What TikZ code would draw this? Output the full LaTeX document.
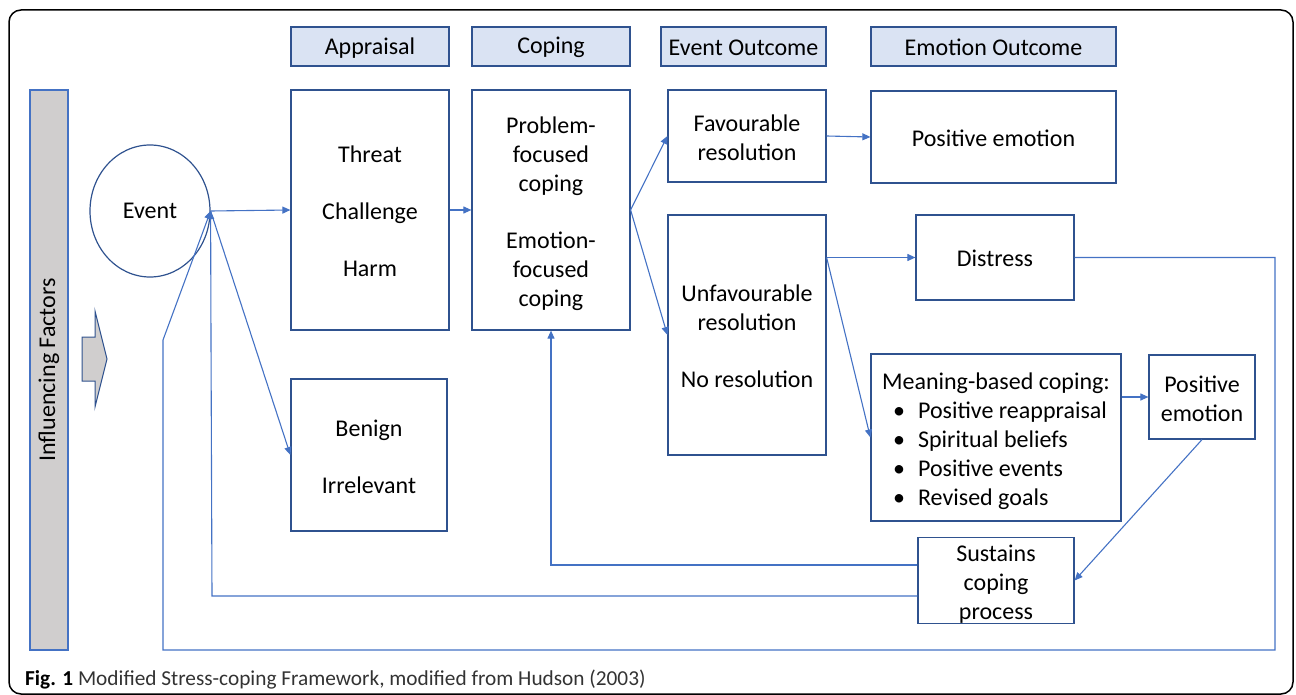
\documentclass[tikz,border=0pt]{standalone}
\usepackage{fontspec}
\setmainfont{Carlito}
\usetikzlibrary{arrows.meta,calc,shapes.geometric}
\definecolor{lineblue}{HTML}{4472C4}
\definecolor{boxblue}{HTML}{2F528F}
\definecolor{headfill}{HTML}{DAE3F3}
\definecolor{barfill}{HTML}{D0CECE}
\newcommand\mybul{\makebox[36pt][l]{\hspace{11pt}•}}
\newcommand\mystrut[1]{\rule{0pt}{#1pt}}
\begin{document}
\begin{tikzpicture}[x=1pt,y=-1pt,
  box/.style={draw=boxblue, line width=1.2pt, align=center, inner sep=0pt, font=\fontsize{24}{29}\selectfont},
  single/.style={box, execute at begin node={\rule{0pt}{19pt}}},
  head/.style={single, fill=headfill},
  conn/.style={draw=lineblue, line width=1.1pt},
  arr/.style={conn, -{Triangle[length=8pt,width=7pt]}}]
\useasboundingbox (0,0) rectangle (1296,695);
\draw[line width=1.5pt, rounded corners=12pt] (9,10) rectangle (1293,694);

% header boxes
\node[head, minimum width=158pt, minimum height=39pt] (happ) at (370,46.5) {Appraisal};
\node[head, minimum width=158pt, minimum height=39pt] (hcop) at (551,46.5) {Coping};
\node[head, minimum width=165pt, minimum height=39pt] (hevt) at (743.5,46.5) {Event Outcome};
\node[head, minimum width=245pt, minimum height=39pt] (hemo) at (993.5,46.5) {Emotion Outcome};

% influencing factors
\node[draw=lineblue, fill=barfill, line width=1.2pt, rotate=90, minimum width=560pt, minimum height=38pt, inner sep=0pt, font=\fontsize{24}{29}\selectfont] (bar) at (49,370) {Influencing Factors};
\draw[draw=boxblue, fill=barfill, line width=1pt] (82,337) -- (95,337) -- (95,311) -- (107,359) -- (95,407) -- (95,381) -- (82,381) -- cycle;

% event
\node[ellipse, draw=boxblue, line width=1.2pt, minimum width=120pt, minimum height=132pt, inner sep=0pt, font=\fontsize{24}{29}\selectfont] (event) at (150,211) {Event};

% main boxes
\node[box, minimum width=158pt, minimum height=240pt] (appr) at (370,210) {\mystrut{19}Threat\\[28pt]Challenge\\[28pt]Harm};
\node[box, minimum width=156pt, minimum height=152pt] (benign) at (369,455) {\mystrut{21}Benign\\[28pt]Irrelevant};
\node[box, minimum width=158pt, minimum height=240pt] (coping) at (551,210) {\mystrut{24}Problem-\\focused\\coping\\[28pt]Emotion-\\focused\\coping};
\node[box, minimum width=158pt, minimum height=92pt] (fav) at (747,136) {\mystrut{21}Favourable\\resolution};
\node[single, minimum width=245pt, minimum height=92pt] (pe1) at (993.5,137) {Positive emotion};
\node[box, minimum width=158pt, minimum height=240pt] (unfav) at (747,335) {\mystrut{19}Unfavourable\\resolution\\[28pt]No resolution};
\node[single, minimum width=158pt, minimum height=85pt] (distress) at (995,257.5) {Distress};
\node[box, minimum width=250pt, minimum height=167pt, align=left] (meaning) at (996,437.5) {\mystrut{24}Meaning-based coping:\\\mybul Positive reappraisal\\\mybul Spiritual beliefs\\\mybul Positive events\\\mybul Revised goals};
\node[box, minimum width=106pt, minimum height=84pt] (pe2) at (1202,397) {\mystrut{21}Positive\\emotion};
\node[box, minimum width=156pt, minimum height=85pt] (sustain) at (996,580.5) {\mystrut{24}Sustains\\coping\\process};

% connectors
\draw[arr] (event.east) -- (appr.west);
\draw[arr] (event.east) -- (benign.west);
\draw[arr] (appr.east) -- (coping.west);
\draw[arr] (coping.east) -- (fav.west);
\draw[arr] (coping.east) -- (unfav.west);
\draw[arr] (fav.east) -- (pe1.west);
\coordinate (ufo) at (unfav.east |- distress.west);
\draw[arr] (ufo) -- (distress.west);
\draw[arr] (ufo) -- (meaning.west);
\draw[arr] (meaning.east |- pe2.west) -- (pe2.west);
\draw[arr] (pe2.south) -- (sustain.east);

\coordinate (d1) at (1275,257.5);
\coordinate (d2) at (1275,650);
\coordinate (d3) at (163,650);
\coordinate (d4) at (163,340);
\draw[arr] (distress.east) -- (d1) -- (d2) -- (d3) -- (d4) -- (event.east);

\coordinate (s1) at ($(sustain.west)+(0,15.5)$);
\coordinate (s2) at (212,596);
\coordinate (s3) at (211,340);
\draw[arr] (s1) -- (s2) -- (s3) -- (event.east);

\coordinate (c1) at ($(sustain.west)+(0,-15.5)$);
\coordinate (c2) at (coping.south |- c1);
\draw[arr] (c1) -- (c2) -- (coping.south);

% caption
\node[anchor=base west, inner sep=0pt, font=\fontsize{21.3}{25}\selectfont, text=black!80] (cap) at (25,685) {\textbf{\color{black}Fig. 1} Modified Stress-coping Framework, modified from Hudson (2003)};
\end{tikzpicture}
\end{document}
